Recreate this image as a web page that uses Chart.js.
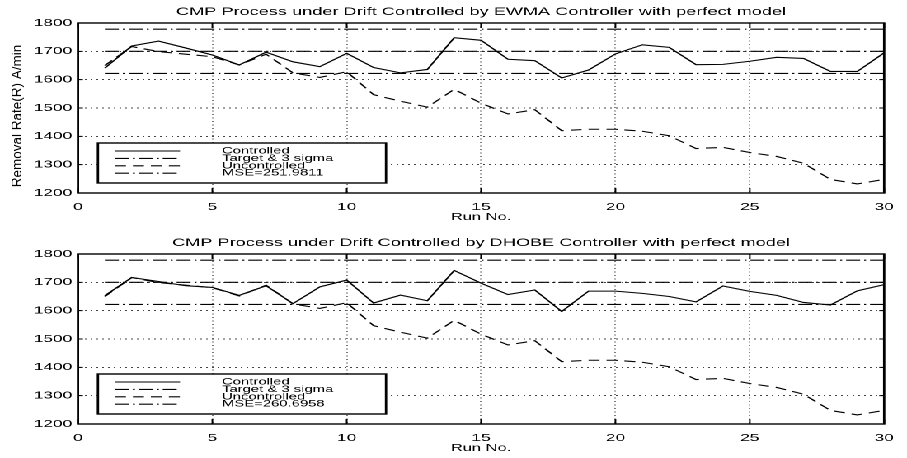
<!DOCTYPE html>
<html>
<head>
<meta charset="utf-8">
<script src="https://cdn.jsdelivr.net/npm/chart.js@4.4.0/dist/chart.umd.min.js"></script>
<style>
  html, body { margin: 0; padding: 0; background: #fff; overflow: hidden; }
  #wrap { position: absolute; left: 0; top: 0; width: 550px; height: 460px; transform-origin: 0 0; }
  #wrap canvas { position: absolute; left: 0; }
</style>
</head>
<body>
<div id="wrap">
  <canvas id="ewmaChart" width="550" height="229" style="top:0"></canvas>
  <canvas id="dhobeChart" width="550" height="229" style="top:231px"></canvas>
</div>
<script>
// Data
const runs = [1, 2, 3, 4, 5, 6, 7, 8, 9, 10, 11, 12, 13, 14, 15, 16, 17, 18, 19, 20, 21, 22, 23, 24, 25, 26, 27, 28, 29, 30];
const ewmaControlled = [1641, 1719, 1736, 1712, 1687, 1652, 1697, 1663, 1646, 1693, 1643, 1624, 1636, 1748, 1739, 1672, 1667, 1606, 1634, 1691, 1723, 1714, 1653, 1654, 1665, 1679, 1675, 1629, 1629, 1695];
const dhobeControlled = [1653, 1717, 1703, 1688, 1682, 1654, 1688, 1625, 1684, 1708, 1627, 1655, 1635, 1742, 1697, 1657, 1673, 1597, 1669, 1669, 1661, 1650, 1631, 1687, 1668, 1654, 1629, 1620, 1670, 1692];
const uncontrolled = [1650, 1717, 1699, 1690, 1681, 1652, 1690, 1624, 1608, 1628, 1547, 1524, 1503, 1566, 1517, 1479, 1494, 1420, 1425, 1425, 1418, 1402, 1357, 1361, 1343, 1329, 1305, 1248, 1232, 1248];
const target = 1700;
const upperLimit = 1778;
const lowerLimit = 1622;
const xTicks = { min: 0, max: 30, step: 5 };
const yTicks = { min: 1200, max: 1800, step: 100 };
const titles = [
    'CMP Process under Drift Controlled by EWMA Controller with perfect model',
    'CMP Process under Drift Controlled by DHOBE Controller with perfect model'
];
const mseLabels = ['MSE=251.9811', 'MSE=260.6958'];

// the original picture is stretched sideways, so the canvases are too
const STRETCH = 907 / 550;
document.getElementById('wrap').style.transform = 'scaleX(' + STRETCH + ')';

const FONT = "'Liberation Sans', Arial, Helvetica, sans-serif";
Chart.defaults.font.family = FONT;
Chart.defaults.color = '#000';

const DASH_DOT = [8.5, 2.4, 1.2, 2.4];
const DASHED = [6.7, 4.2];

function toPoints(values) {
    return runs.map((r, i) => ({ x: r, y: values[i] }));
}

function flatLine(value) {
    return [{ x: runs[0], y: value }, { x: runs[runs.length - 1], y: value }];
}

// box around the plot plus inward tick marks (matlab style)
const axesBox = {
    id: 'axesBox',
    afterDatasetsDraw(chart) {
        const { ctx, chartArea: a, scales: { x, y } } = chart;
        ctx.save();
        ctx.strokeStyle = '#000';
        ctx.setLineDash([]);
        ctx.lineWidth = 1;
        ctx.beginPath();
        x.ticks.forEach(t => {
            const px = x.getPixelForValue(t.value);
            ctx.moveTo(px, a.bottom); ctx.lineTo(px, a.bottom - 5);
            ctx.moveTo(px, a.top); ctx.lineTo(px, a.top + 5);
        });
        y.ticks.forEach(t => {
            const py = y.getPixelForValue(t.value);
            ctx.moveTo(a.left, py); ctx.lineTo(a.left + 5 / STRETCH, py);
            ctx.moveTo(a.right, py); ctx.lineTo(a.right - 5 / STRETCH, py);
        });
        ctx.stroke();
        ctx.lineWidth = 1.4;
        ctx.strokeRect(a.left, a.top, a.right - a.left, a.bottom - a.top);
        ctx.restore();
    }
};

// legend box inside the lower left corner of the plot
const boxLegend = {
    id: 'boxLegend',
    afterDraw(chart) {
        const { ctx, chartArea: a } = chart;
        const items = chart.data.datasets.filter(d => d.inLegend !== false);
        const width = 174.7, height = 40;
        const left = a.left + 12.1;
        const top = a.bottom - 10 - height;
        ctx.save();
        ctx.fillStyle = '#fff';
        ctx.fillRect(left, top, width, height);
        ctx.strokeStyle = '#000';
        ctx.lineWidth = 1.4;
        ctx.strokeRect(left, top, width, height);
        ctx.font = '9px ' + FONT;
        ctx.textAlign = 'left';
        ctx.textBaseline = 'middle';
        ctx.fillStyle = '#000';
        items.forEach((d, i) => {
            const ry = top + 8 + i * 7.4;
            ctx.lineWidth = d.borderWidth;
            ctx.setLineDash(d.borderDash || []);
            ctx.beginPath();
            ctx.moveTo(left + 10.3, ry);
            ctx.lineTo(left + 49.8, ry);
            ctx.stroke();
            ctx.fillText(d.label, left + 75.2, ry);
        });
        ctx.restore();
    }
};

// rotated y label, drawn un-stretched
const yLabel = {
    id: 'yLabel',
    afterDraw(chart, args, opts) {
        if (!opts.text) return;
        const ctx = chart.ctx;
        ctx.save();
        ctx.translate(opts.x, opts.y);
        ctx.scale(1 / STRETCH, 1);
        ctx.rotate(-Math.PI / 2);
        ctx.font = '13.5px ' + FONT;
        ctx.fillStyle = '#000';
        ctx.textAlign = 'center';
        ctx.textBaseline = 'middle';
        ctx.fillText(opts.text, 0, 0);
        ctx.restore();
    }
};

function makeChart(canvasId, title, controlled, mse, yText) {
    const ctx = document.getElementById(canvasId).getContext('2d');
    const line = { borderColor: '#000', borderWidth: 1.1, pointRadius: 0, fill: false, tension: 0 };
    return new Chart(ctx, {
        type: 'line',
        data: {
            datasets: [
                { ...line, label: 'Controlled', data: toPoints(controlled) },
                { ...line, label: 'Target & 3 sigma', data: flatLine(target), borderDash: DASH_DOT },
                { ...line, label: 'UCL', data: flatLine(upperLimit), borderDash: DASH_DOT, inLegend: false },
                { ...line, label: 'LCL', data: flatLine(lowerLimit), borderDash: DASH_DOT, inLegend: false },
                { ...line, label: 'Uncontrolled', data: toPoints(uncontrolled), borderDash: DASHED },
                { ...line, label: mse, data: [], borderDash: DASH_DOT }
            ]
        },
        options: {
            responsive: false,
            animation: false,
            devicePixelRatio: 2,
            layout: { padding: { left: 0, right: 7.9, top: 0, bottom: 0 } },
            plugins: {
                legend: { display: false },
                tooltip: { enabled: false },
                title: {
                    display: true,
                    text: title,
                    fullSize: false,
                    color: '#000',
                    font: { size: 11, weight: 'normal' },
                    padding: { top: 5.5, bottom: 4.3 }
                },
                yLabel: { text: yText, x: 10.9, y: 116 }
            },
            scales: {
                x: {
                    type: 'linear',
                    min: xTicks.min,
                    max: xTicks.max,
                    ticks: { stepSize: xTicks.step, color: '#000', font: { size: 10.5 }, padding: 8, maxRotation: 0 },
                    grid: { color: '#444', lineWidth: 0.7, drawTicks: false },
                    border: { display: true, color: '#000', width: 1, dash: [1, 2.5] },
                    title: { display: true, text: 'Run No.', color: '#000', font: { size: 10 }, padding: { top: 0, bottom: 6 } },
                    afterFit(scale) { scale.height = 36; }
                },
                y: {
                    min: yTicks.min,
                    max: yTicks.max,
                    ticks: { stepSize: yTicks.step, color: '#000', font: { size: 10.5 }, padding: 3.5,
                        callback: v => String(v) },
                    grid: { color: '#444', lineWidth: 1, drawTicks: false },
                    border: { display: true, color: '#000', width: 1, dash: [1, 2.5] },
                    afterFit(scale) { scale.width = 47.3; }
                }
            }
        },
        plugins: [axesBox, boxLegend, yLabel]
    });
}

makeChart('ewmaChart', titles[0], ewmaControlled, mseLabels[0], 'Removal Rate(R) A/min');
makeChart('dhobeChart', titles[1], dhobeControlled, mseLabels[1], '');
</script>
</body>
</html>
